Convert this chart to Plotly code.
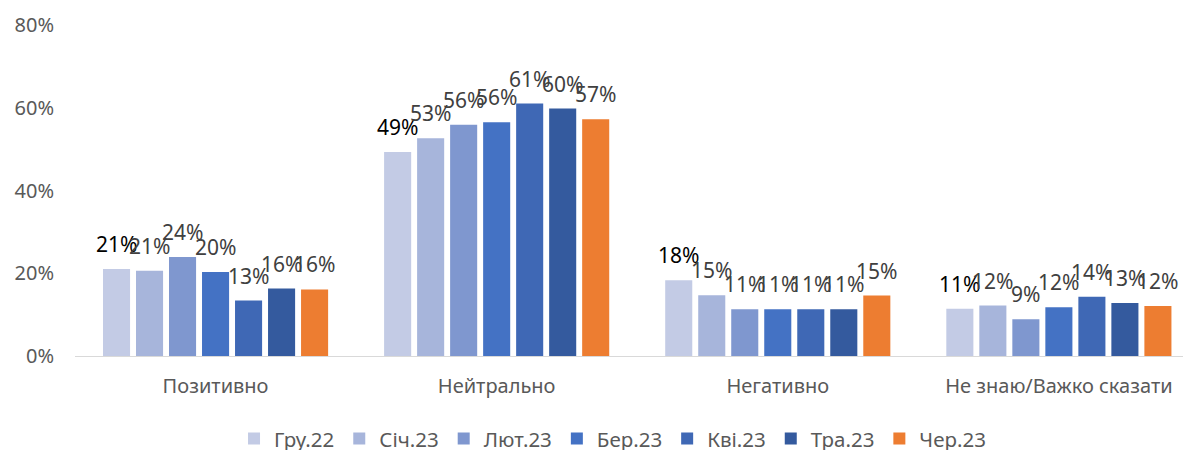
import plotly.graph_objects as go

categories = ["Позитивно", "Нейтрально", "Негативно", "Не знаю/Важко сказати"]
series_names = ["Гру.22", "Січ.23", "Лют.23", "Бер.23", "Кві.23", "Тра.23", "Чер.23"]
values = [
    [21.0, 49.3, 18.3, 11.4],  # Гру.22
    [20.6, 52.6, 14.7, 12.2],  # Січ.23
    [23.9, 55.9, 11.3, 8.9],   # Лют.23
    [20.3, 56.5, 11.3, 11.8],  # Бер.23
    [13.4, 61.0, 11.3, 14.3],  # Кві.23
    [16.3, 59.8, 11.3, 12.8],  # Тра.23
    [16.1, 57.2, 14.6, 12.1],  # Чер.23
]
colors = ["#C3CBE5", "#A7B5DB", "#7F97CF", "#4472C4", "#3F68B5", "#345A9E", "#ED7D31"]
label_colors = ["#000000"] + ["#404040"] * 6
y_ticks = [0, 20, 40, 60, 80]

FONT = "Noto Sans"
BARGAP = 0.178
n = len(series_names)

fig = go.Figure()
for j, name in enumerate(series_names):
    fig.add_trace(go.Bar(
        name=name,
        x=list(range(len(categories))),
        y=values[j],
        marker=dict(color=colors[j], line=dict(width=0)),
        hoverinfo="skip",
    ))
    for i, v in enumerate(values[j]):
        fig.add_annotation(
            x=i + (j - (n - 1) / 2) * (1 - BARGAP) / n,
            y=v,
            text=f"{round(v)}%",
            showarrow=False,
            yanchor="middle",
            xanchor="center",
            yshift=25,
            font=dict(family=FONT, size=21, color=label_colors[j]),
        )

fig.update_layout(
    width=1183,
    height=442,
    autosize=False,
    barmode="group",
    bargap=BARGAP,
    bargroupgap=0.18,
    plot_bgcolor="white",
    paper_bgcolor="white",
    margin=dict(l=67, r=0, t=17, b=94, autoexpand=False),
    font=dict(family=FONT, size=20, color="#595959"),
    showlegend=True,
    legend=dict(
        orientation="h",
        x=0.1425,
        xanchor="left",
        y=-0.25,
        yanchor="middle",
        font=dict(family=FONT, size=20.5, color="#595959"),
        itemclick=False,
        itemwidth=30,
    ),
    xaxis=dict(
        tickmode="array",
        tickvals=list(range(len(categories))),
        ticktext=categories,
        range=[-0.5, 3.47],
        showgrid=False,
        showline=True,
        linecolor="#D9D9D9",
        linewidth=1,
        ticks="",
        ticklabelstandoff=12,
        zeroline=False,
        automargin=False,
    ),
    yaxis=dict(
        range=[0, 80],
        tickvals=y_ticks,
        ticktext=[f"{t}%" for t in y_ticks],
        showgrid=False,
        showline=False,
        zeroline=False,
        ticks="",
        ticklabelstandoff=20,
        automargin=False,
    ),
)

fig.write_html("out.html")
